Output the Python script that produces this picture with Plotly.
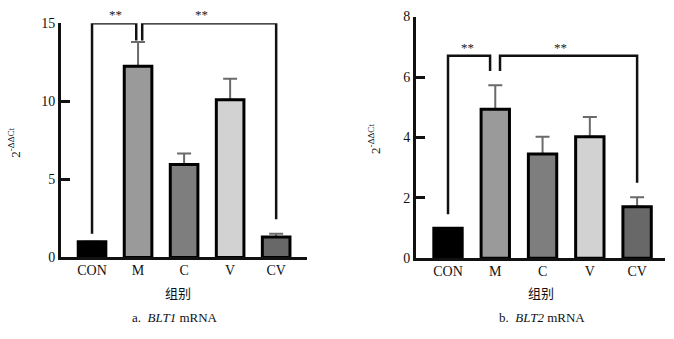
import plotly.graph_objects as go

W, H = 674, 339

categories = ["CON", "M", "C", "V", "CV"]
bar_colors = ["#000000", "#9a9a9a", "#7e7e7e", "#d2d2d2", "#686868"]

blt1_mean = [1.0, 12.25, 5.95, 10.1, 1.3]
blt1_err = [0.0, 1.55, 0.7, 1.35, 0.22]

blt2_mean = [1.0, 4.93, 3.45, 4.02, 1.71]
blt2_err = [0.0, 0.8, 0.57, 0.66, 0.31]

# significance brackets: (x_left, x_right, y_top, y_left_end, y_right_end)
blt1_brackets = [(0.0, 0.96, 15.0, 1.52, 13.9), (1.09, 4.0, 15.0, 13.9, 2.44)]
blt1_stars = [(0.52, 15.55), (2.37, 15.55)]
blt2_brackets = [(0.0, 0.89, 6.7, 1.46, 6.2), (1.10, 4.0, 6.7, 6.2, 2.5)]
blt2_stars = [(0.42, 6.98), (2.37, 6.98)]

blt1_ymax = 15
blt2_ymax = 8

SERIF = "Liberation Serif"
CJK = "Noto Sans CJK SC"

fig = go.Figure()

def px_x(p):
    return p / W

def px_y(p):
    return 1 - p / H

panels = [
    dict(xa="x", ya="y", mean=blt1_mean, err=blt1_err, br=blt1_brackets, st=blt1_stars, ymax=blt1_ymax),
    dict(xa="x2", ya="y2", mean=blt2_mean, err=blt2_err, br=blt2_brackets, st=blt2_stars, ymax=blt2_ymax),
]

for p in panels:
    xs = list(range(len(categories)))
    # filled bars with upper error bars
    fig.add_trace(go.Bar(
        x=xs, y=p["mean"], width=0.6,
        marker=dict(color=bar_colors, line=dict(width=0)),
        error_y=dict(type="data", symmetric=False, array=p["err"],
                     arrayminus=[0] * len(categories),
                     color="#6a6a6a", thickness=2, width=7),
        xaxis=p["xa"], yaxis=p["ya"], showlegend=False, hoverinfo="skip",
    ))
    # outlines drawn on top (covers the lower error cap)
    fig.add_trace(go.Bar(
        x=xs, y=p["mean"], width=0.6,
        marker=dict(color="rgba(0,0,0,0)", line=dict(color="#000000", width=3)),
        xaxis=p["xa"], yaxis=p["ya"], showlegend=False, hoverinfo="skip",
    ))
    for (xl, xr, yt, yl, yr) in p["br"]:
        fig.add_trace(go.Scatter(
            x=[xl, xl, xr, xr], y=[yl, yt, yt, yr], mode="lines",
            line=dict(color="#111111", width=2.5),
            xaxis=p["xa"], yaxis=p["ya"], showlegend=False, hoverinfo="skip",
            cliponaxis=False,
        ))
    for (sx, sy) in p["st"]:
        fig.add_annotation(x=sx, y=sy / p["ymax"], xref=p["xa"], yref=p["ya"] + " domain",
                           text="**", showarrow=False, xanchor="center", yanchor="middle",
                           font=dict(family=SERIF, size=13, color="#222"))

axis_common = dict(
    showgrid=False, zeroline=False, showline=True, linecolor="#111111", linewidth=3,
    ticks="inside", ticklen=9, tickwidth=3, tickcolor="#111111",
    tickfont=dict(family=SERIF, size=14, color="#111111"),
)
xaxis_common = {**axis_common, "ticks": "", "ticklabelstandoff": -2}

fig.update_layout(
    width=W, height=H, margin=dict(l=0, r=0, t=0, b=0),
    paper_bgcolor="white", plot_bgcolor="white", barmode="overlay",
    xaxis=dict(domain=[px_x(61), px_x(307)], range=[-0.674, 4.67],
               tickvals=list(range(5)), ticktext=categories, anchor="y", **xaxis_common),
    yaxis=dict(domain=[px_y(262), px_y(17)], range=[0, blt1_ymax], tickvals=[0, 5, 10, 15],
               anchor="x", **axis_common),
    xaxis2=dict(domain=[px_x(416), px_x(665)], range=[-0.677, 4.59],
                tickvals=list(range(5)), ticktext=categories, anchor="y2", **xaxis_common),
    yaxis2=dict(domain=[px_y(263), px_y(10)], range=[0, blt2_ymax], tickvals=[0, 2, 4, 6, 8],
                anchor="x2", **axis_common),
)

# y-axis titles
for (xp, yp) in [(14, 142), (374, 138)]:
    fig.add_annotation(x=px_x(xp), y=px_y(yp), xref="paper", yref="paper",
                       xanchor="center", yanchor="middle",
                       text="2<sup>-ΔΔCt</sup>", textangle=-90, showarrow=False,
                       font=dict(family=SERIF, size=13, color="#111"))

# x-axis titles
for xp in [178, 541]:
    fig.add_annotation(x=px_x(xp), y=px_y(299), xref="paper", yref="paper",
                       xanchor="center", yanchor="middle",
                       text="组别", showarrow=False,
                       font=dict(family=CJK, size=13, color="#111"))

# captions
for xp, txt in [(175, "a.  <i>BLT1</i> mRNA"), (542, "b.  <i>BLT2</i> mRNA")]:
    fig.add_annotation(x=px_x(xp), y=px_y(325), xref="paper", yref="paper",
                       xanchor="center", yanchor="middle",
                       text=txt, showarrow=False,
                       font=dict(family=SERIF, size=13, color="#111"))

fig.write_html("out.html")
